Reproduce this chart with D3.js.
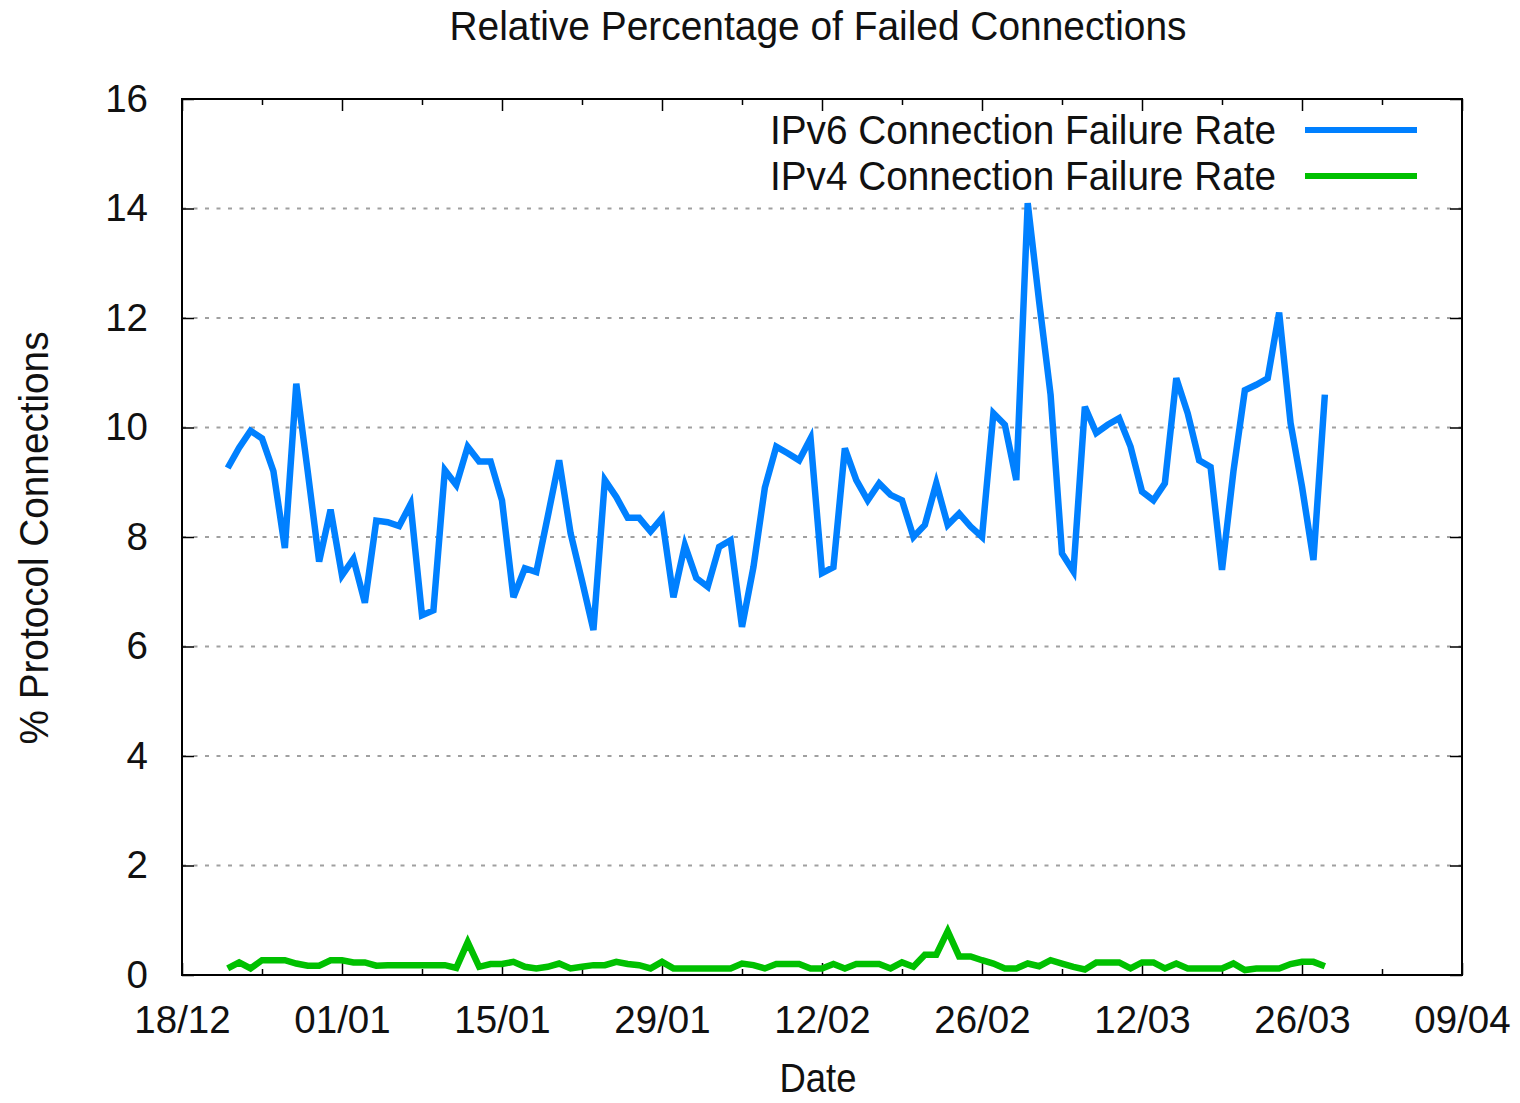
<!DOCTYPE html>
<html>
<head>
<meta charset="utf-8">
<script src="https://cdn.jsdelivr.net/npm/d3@7"></script>
<style>
body { margin: 0; background: #fff; }
svg { display: block; background: #fff; }
text { font-family: "Liberation Sans", Arial, sans-serif; font-size: 38.5px; fill: #111; }
.label { font-size: 41px; }
.axis path { display: none; }
.axis line { stroke: #000; stroke-width: 1.5; }
.grid line { stroke: #a0a0a0; stroke-width: 2; stroke-dasharray: 4,7.5; }
</style>
</head>
<body>
<svg width="1520" height="1103"></svg>
<script>
// daily values, first day below
var firstDay = "2010-12-22";
var ipv6Rate = [9.26, 9.63, 9.94, 9.8, 9.2, 7.8, 10.8, 9.2, 7.55, 8.5,
	7.3, 7.6, 6.8, 8.3, 8.27, 8.2, 8.6, 6.57, 6.66, 9.22,
	8.95, 9.65, 9.38, 9.38, 8.67, 6.9, 7.43, 7.36, 8.37, 9.4,
	8.07, 7.2, 6.3, 9.04, 8.73, 8.35, 8.35, 8.1, 8.35, 6.9,
	7.85, 7.25, 7.09, 7.82, 7.94, 6.36, 7.45, 8.9, 9.65, 9.53,
	9.4, 9.8, 7.34, 7.45, 9.62, 9.04, 8.67, 8.98, 8.77, 8.67,
	8.0, 8.22, 8.98, 8.22, 8.43, 8.19, 8.0, 10.26, 10.05, 9.04,
	14.1, 12.3, 10.6, 7.7, 7.37, 10.38, 9.9, 10.05, 10.17, 9.65,
	8.83, 8.67, 8.98, 10.9, 10.26, 9.4, 9.28, 7.4, 9.2, 10.68,
	10.78, 10.9, 12.1, 10.08, 8.92, 7.58, 10.6];
var ipv4Rate = [0.12, 0.23, 0.12, 0.27, 0.27, 0.27, 0.21, 0.17, 0.17, 0.27,
	0.27, 0.23, 0.23, 0.17, 0.18, 0.18, 0.18, 0.18, 0.18, 0.18,
	0.13, 0.6, 0.15, 0.2, 0.2, 0.24, 0.15, 0.12, 0.15, 0.21,
	0.12, 0.15, 0.18, 0.18, 0.24, 0.2, 0.18, 0.12, 0.24, 0.12,
	0.12, 0.12, 0.12, 0.12, 0.12, 0.21, 0.18, 0.12, 0.2, 0.2,
	0.2, 0.12, 0.12, 0.2, 0.12, 0.2, 0.2, 0.2, 0.12, 0.23,
	0.15, 0.37, 0.37, 0.8, 0.34, 0.34, 0.27, 0.21, 0.12, 0.12,
	0.21, 0.16, 0.27, 0.21, 0.15, 0.1, 0.23, 0.23, 0.23, 0.12,
	0.23, 0.23, 0.12, 0.21, 0.12, 0.12, 0.12, 0.12, 0.21, 0.09,
	0.12, 0.12, 0.12, 0.2, 0.24, 0.24, 0.16];
var xTickDates = ["2010-12-18", "2011-01-01", "2011-01-15", "2011-01-29", "2011-02-12",
	"2011-02-26", "2011-03-12", "2011-03-26", "2011-04-09"];
var yTicks = [0, 2, 4, 6, 8, 10, 12, 14, 16];
var seriesNames = ["IPv6 Connection Failure Rate", "IPv4 Connection Failure Rate"];
var seriesColors = ["#0080ff", "#00c000"];

var svg = d3.select("svg"),
	margin = {top: 99, right: 58, bottom: 128, left: 182},
	width = 1520 - margin.left - margin.right,
	height = 1103 - margin.top - margin.bottom,
	parse = d3.utcParse("%Y-%m-%d");

var majors = xTickDates.map(parse),
	minors = majors.slice(0, -1).map(function(d){ return d3.utcDay.offset(d, 7); }),
	start = parse(firstDay),
	days = d3.utcDay.range(start, d3.utcDay.offset(start, ipv6Rate.length));

var x = d3.scaleUtc().domain([majors[0], majors[majors.length - 1]]).range([0, width]),
	y = d3.scaleLinear().domain([0, 16]).range([height, 0]);

var g = svg.append("g")
	.attr("transform", "translate(" + margin.left + "," + margin.top + ")");

// dotted grid
g.append("g")
	.attr("class", "grid")
	.selectAll("line")
	.data(yTicks.slice(1, -1))
	.enter().append("line")
	.attr("x1", 0)
	.attr("x2", width)
	.attr("y1", function(d){ return y(d); })
	.attr("y2", function(d){ return y(d); });

g.append("g")
	.attr("class", "axis axis--x")
	.attr("transform", "translate(0," + height + ")")
	.call(d3.axisBottom(x).tickValues(majors).tickSize(-12).tickPadding(31).tickFormat(d3.utcFormat("%d/%m")));

g.append("g")
	.attr("class", "axis")
	.attr("transform", "translate(0," + height + ")")
	.call(d3.axisBottom(x).tickValues(minors).tickSize(-6).tickFormat(""));

g.append("g")
	.attr("class", "axis")
	.call(d3.axisTop(x).tickValues(majors).tickSize(-12).tickFormat(""));

g.append("g")
	.attr("class", "axis")
	.call(d3.axisTop(x).tickValues(minors).tickSize(-6).tickFormat(""));

g.append("g")
	.attr("class", "axis axis--y")
	.call(d3.axisLeft(y).tickValues(yTicks).tickSize(-12).tickPadding(34));

g.append("g")
	.attr("class", "axis")
	.attr("transform", "translate(" + width + ",0)")
	.call(d3.axisRight(y).tickValues(yTicks).tickSize(-12).tickFormat(""));

g.selectAll(".axis text")
	.attr("font-family", null)
	.attr("font-size", null)
	.style("fill", "#111");

g.append("rect")
	.attr("width", width)
	.attr("height", height)
	.attr("fill", "none")
	.attr("stroke", "#000")
	.attr("stroke-width", 2);

var line = d3.line()
	.x(function(d, i){ return x(days[i]); })
	.y(function(d){ return y(d); });

[ipv6Rate, ipv4Rate].forEach(function(s, i){
	g.append("path")
		.datum(s)
		.attr("fill", "none")
		.attr("stroke", seriesColors[i])
		.attr("stroke-width", 6.5)
		.attr("d", line);
});

// legend
var legend = g.selectAll(".legend")
	.data(seriesNames)
	.enter().append("g")
	.attr("class", "legend")
	.attr("transform", function(d, i){ return "translate(0," + (31 + i * 46) + ")"; });

legend.append("text")
	.attr("class", "label")
	.attr("x", 1094)
	.attr("dy", "0.34em")
	.attr("text-anchor", "end")
	.attr("textLength", 506)
	.attr("lengthAdjust", "spacingAndGlyphs")
	.text(function(d){ return d; });

legend.append("line")
	.attr("x1", 1123)
	.attr("x2", 1235)
	.attr("stroke", function(d, i){ return seriesColors[i]; })
	.attr("stroke-width", 6);

svg.append("text")
	.attr("class", "label")
	.attr("x", 818)
	.attr("y", 40)
	.attr("text-anchor", "middle")
	.attr("textLength", 737)
	.attr("lengthAdjust", "spacingAndGlyphs")
	.text("Relative Percentage of Failed Connections");

svg.append("text")
	.attr("class", "label")
	.attr("x", 818)
	.attr("y", 1092)
	.attr("text-anchor", "middle")
	.attr("textLength", 77)
	.attr("lengthAdjust", "spacingAndGlyphs")
	.text("Date");

svg.append("text")
	.attr("class", "label")
	.attr("transform", "translate(48,538) rotate(-90)")
	.attr("text-anchor", "middle")
	.attr("textLength", 413)
	.attr("lengthAdjust", "spacingAndGlyphs")
	.text("% Protocol Connections");
</script>
</body>
</html>
